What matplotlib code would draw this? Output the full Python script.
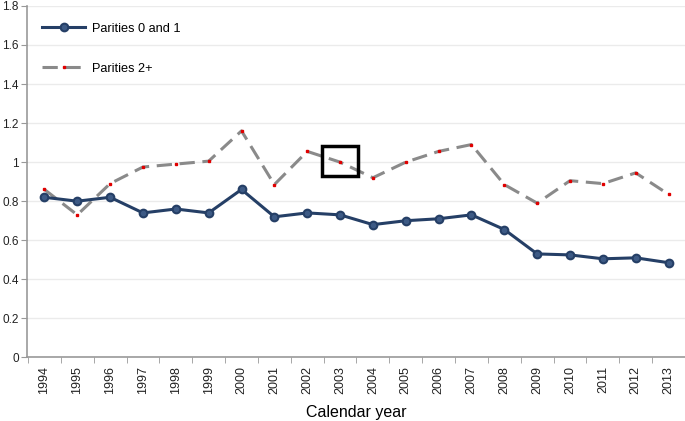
import matplotlib.pyplot as plt
import matplotlib.ticker as ticker
from matplotlib.patches import Rectangle

years = [str(y) for y in range(1994, 2014)]
parities_01 = [0.82, 0.80, 0.82, 0.74, 0.76, 0.74, 0.86, 0.72, 0.74, 0.73,
               0.68, 0.70, 0.71, 0.73, 0.655, 0.53, 0.525, 0.505, 0.51, 0.485]
parities_2p = [0.86, 0.73, 0.89, 0.975, 0.99, 1.005, 1.16, 0.885, 1.055, 1.0,
               0.92, 1.0, 1.055, 1.09, 0.885, 0.79, 0.905, 0.89, 0.945, 0.835]
yticks = [0, 0.2, 0.4, 0.6, 0.8, 1.0, 1.2, 1.4, 1.6, 1.8]


def main():
    plt.rcParams['font.family'] = ['Liberation Sans', 'DejaVu Sans']
    fig = plt.figure(figsize=(6.85, 4.21), dpi=100)
    ax = fig.add_axes([0.0394, 0.151, 0.9606, 0.835])
    x = list(range(len(years)))

    ax.plot(x, parities_01, color='#253f66', lw=2.2, marker='o', ms=5.5,
            mfc='#3d5a85', mec='#253f66', mew=1.5, label='Parities 0 and 1', zorder=3)
    ax.plot(x, parities_2p, color='#8a8a8a', lw=2.2, dashes=(5, 2.5),
            marker='s', ms=1.8, mfc='#e00000', mec='#e00000', label='Parities 2+', zorder=2)

    # highlight box round 2003
    ax.add_patch(Rectangle((8.45, 0.93), 1.1, 0.155, fill=False, ec='black', lw=2.5, zorder=4))

    ax.set_xlim(-0.53, 19.5)
    ax.set_ylim(0, 1.8)
    ax.set_yticks(yticks)
    ax.yaxis.set_major_formatter(ticker.FuncFormatter(lambda v, p: f'{v:g}'))
    ax.set_xticks(x)
    ax.set_xticklabels(years, rotation=90)
    ax.set_xticks([i - 0.5 for i in range(len(years) + 1)], minor=True)
    ax.tick_params(axis='x', which='major', length=0, pad=6, labelsize=9, colors='#222222')
    ax.tick_params(axis='x', which='minor', length=4, color='#999999')
    ax.tick_params(axis='y', length=4, color='#999999', labelsize=8.5, labelcolor='#222222', pad=2)
    ax.grid(axis='y', color='#ebebeb', lw=1)
    ax.set_axisbelow(True)
    for s in ['top', 'right']:
        ax.spines[s].set_visible(False)
    for s in ['left', 'bottom']:
        ax.spines[s].set_color('#999999')
        ax.spines[s].set_linewidth(1.2)

    ax.set_xlabel('Calendar year', fontsize=11.5, labelpad=8)
    ax.legend(loc='upper left', bbox_to_anchor=(0.005, 0.985), frameon=False,
              fontsize=9.2, labelspacing=2.2, handlelength=3.4, handletextpad=0.5)

    fig.savefig('out.png', dpi=100)


if __name__ == "__main__":
    main()
